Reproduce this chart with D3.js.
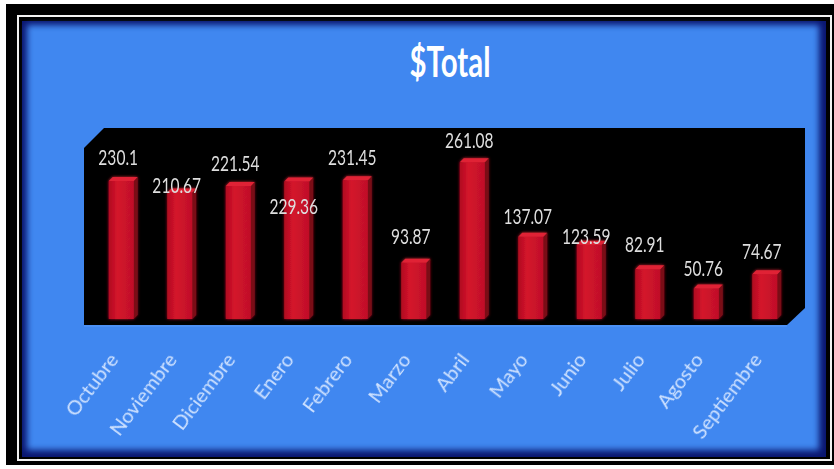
<!DOCTYPE html>
<html>
<head>
<meta charset="utf-8">
<script src="https://cdn.jsdelivr.net/npm/d3@7"></script>
<style>
  html, body { margin: 0; padding: 0; background: #ffffff; }
  svg { display: block; }
</style>
</head>
<body>
<svg id="chart" width="834" height="469"></svg>
<script>
// ---- data ----
const categories = ["Octubre", "Noviembre", "Diciembre", "Enero", "Febrero", "Marzo",
                    "Abril", "Mayo", "Junio", "Julio", "Agosto", "Septiembre"];
const values = [230.1, 210.67, 221.54, 229.36, 231.45, 93.87, 261.08, 137.07, 123.59, 82.91, 50.76, 74.67];
const valueLabels = ["230.1", "210.67", "221.54", "229.36", "231.45", "93.87",
                     "261.08", "137.07", "123.59", "82.91", "50.76", "74.67"];
const title = "$Total";

// ---- layout (not data) ----
const labelLift = [16, 0, 15, -33, 15, 19, 14, 13, 1, 17, 13, 15];
const W = 834, H = 469;
const plot = { left: 84, right: 805, top: 128, bottom: 325, chamfer: 20 };
const squeeze = 0.74;   // the reference text is horizontally condensed
const FONT = "Lato, 'Open Sans', sans-serif";

const svg = d3.select("#chart");
const defs = svg.append("defs");

const blur = defs.append("filter").attr("id", "panelBlur")
  .attr("x", "-5%").attr("y", "-5%").attr("width", "110%").attr("height", "110%");
blur.append("feGaussianBlur").attr("stdDeviation", 3);

const glow = defs.append("filter").attr("id", "barGlow")
  .attr("x", "-50%").attr("y", "-20%").attr("width", "200%").attr("height", "140%");
glow.append("feGaussianBlur").attr("in", "SourceGraphic").attr("stdDeviation", 1.6).attr("result", "b");
const gm = glow.append("feMerge");
gm.append("feMergeNode").attr("in", "b");
gm.append("feMergeNode").attr("in", "SourceGraphic");

const txtGlow = defs.append("filter").attr("id", "txtGlow")
  .attr("x", "-20%").attr("y", "-20%").attr("width", "140%").attr("height", "140%");
txtGlow.append("feGaussianBlur").attr("in", "SourceGraphic").attr("stdDeviation", 0.5);

const frontGrad = defs.append("linearGradient").attr("id", "frontGrad")
  .attr("x1", "0").attr("x2", "1").attr("y1", "0").attr("y2", "0");
frontGrad.append("stop").attr("offset", "0%").attr("stop-color", "#b00c20");
frontGrad.append("stop").attr("offset", "35%").attr("stop-color", "#d4142c");
frontGrad.append("stop").attr("offset", "100%").attr("stop-color", "#c01028");

// ---- frame ----
svg.append("rect").attr("x", 6).attr("y", 4).attr("width", W - 6).attr("height", 461).attr("fill", "#000");
svg.append("rect").attr("x", 18).attr("y", 16).attr("width", 813).attr("height", 444)
  .attr("fill", "none").attr("stroke", "#f2f2f2").attr("stroke-width", 2);
svg.append("rect").attr("x", 22).attr("y", 21).attr("width", 804).attr("height", 436).attr("fill", "#0a1670");
svg.append("rect").attr("x", 27).attr("y", 25).attr("width", 792).attr("height", 425)
  .attr("fill", "#4087f0").attr("filter", "url(#panelBlur)");

// ---- title ----
svg.append("text")
  .attr("transform", `translate(450, 77) scale(0.7, 1)`)
  .attr("text-anchor", "middle")
  .attr("font-family", FONT)
  .attr("font-weight", "bold")
  .attr("font-size", 42)
  .attr("fill", "#ffffff")
  .text(title);

// ---- plot area (3D-ish black wall) ----
const c = plot.chamfer;
const wallPts = [
  [plot.left, plot.top + c], [plot.left + c, plot.top], [plot.right, plot.top],
  [plot.right, plot.bottom - c + 3], [plot.right - c + 2, plot.bottom], [plot.left, plot.bottom]
];
svg.append("path").attr("d", d3.line()(wallPts) + "Z").attr("fill", "#000");
svg.append("line").attr("x1", plot.left).attr("x2", plot.right - c + 2)
  .attr("y1", plot.bottom + 1).attr("y2", plot.bottom + 1)
  .attr("stroke", "#6aa6ff").attr("stroke-width", 1).attr("opacity", 0.6);

// ---- scales ----
const x = d3.scaleBand().domain(categories).range([92, 794]).paddingInner(0.573).paddingOuter(0.286);
const y = d3.scaleLinear().domain([0, 300]).range([319, 139]);

const depthX = 4, depthY = 4;
const bars = svg.append("g").selectAll("g.bar").data(categories).join("g").attr("class", "bar")
  .attr("filter", "url(#barGlow)");

bars.append("path") // right side
  .attr("d", (d, i) => {
    const x1 = x(d) + x.bandwidth(), yt = y(values[i]), yb = y(0);
    return d3.line()([[x1, yt], [x1 + depthX, yt - depthY], [x1 + depthX, yb - depthY], [x1, yb]]) + "Z";
  })
  .attr("fill", "#7a0a16");
bars.append("path") // top face
  .attr("d", (d, i) => {
    const x0 = x(d), x1 = x0 + x.bandwidth(), yt = y(values[i]);
    return d3.line()([[x0, yt], [x0 + depthX, yt - depthY], [x1 + depthX, yt - depthY], [x1, yt]]) + "Z";
  })
  .attr("fill", "#e02436");
bars.append("rect") // front face
  .attr("x", d => x(d))
  .attr("y", (d, i) => y(values[i]))
  .attr("width", x.bandwidth())
  .attr("height", (d, i) => y(0) - y(values[i]))
  .attr("fill", "url(#frontGrad)");

// ---- value labels ----
svg.append("g").selectAll("text").data(categories).join("text")
  .attr("transform", (d, i) =>
    `translate(${x(d) + x.bandwidth() / 2 - 3}, ${y(values[i]) - labelLift[i]}) scale(${squeeze}, 1)`)
  .attr("text-anchor", "middle")
  .attr("font-family", FONT)
  .attr("font-size", 21)
  .attr("fill", "#dedede")
  .attr("filter", "url(#txtGlow)")
  .text((d, i) => valueLabels[i]);

// ---- category axis ----
const axis = svg.append("g")
  .attr("transform", `translate(0, ${plot.bottom})`)
  .call(d3.axisBottom(x).tickSize(0).tickPadding(0));
axis.select(".domain").remove();
axis.selectAll("text")
  .attr("font-family", FONT)
  .attr("font-size", 20)
  .attr("fill", "#cfe2ff")
  .attr("filter", "url(#txtGlow)")
  .attr("text-anchor", "end")
  .attr("dy", 0)
  .attr("y", 0)
  .attr("transform", `translate(-2, 35) rotate(-53) scale(1.0, 1)`);
</script>
</body>
</html>
